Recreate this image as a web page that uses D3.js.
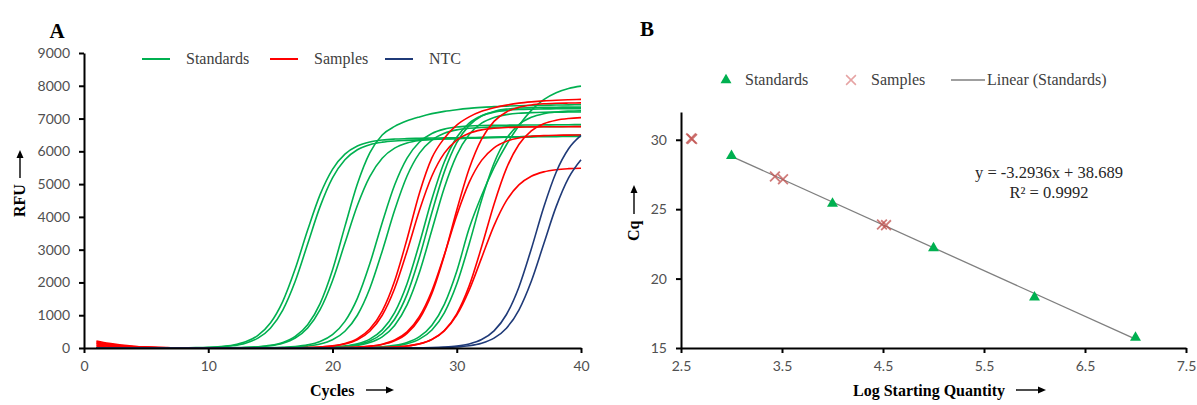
<!DOCTYPE html>
<html>
<head>
<meta charset="utf-8">
<script src="https://cdn.jsdelivr.net/npm/d3@7"></script>
<style>
  body { margin: 0; background: #fff; }
  svg { display: block; }
  .tick text { font-family: Lato, "Open Sans", sans-serif; font-size: 14px; fill: #505050; }
  .serif { font-family: "Liberation Serif", "Times New Roman", serif; }
</style>
</head>
<body>
<script>
// ---- panel A : amplification curves (RFU per cycle) ----
const cycles = [1,2,3,4,5,6,7,8,9,10,11,12,13,14,15,16,17,18,19,20,21,22,23,24,25,26,27,28,29,30,31,32,33,34,35,36,37,38,39,40];

const standardsRfu = [
  [0,0,0,0,0,0,2,5,10,20,43,90,188,385,763,1425,2416,3598,4679,5452,5914,6161,6285,6345,6374,6388,6398,6405,6410,6415,6420,6425,6430,6434,6438,6442,6446,6450,6453,6456],
  [0,0,0,0,0,0,0,3,7,16,33,70,146,301,605,1158,2037,3175,4313,5192,5745,6049,6204,6280,6317,6334,6350,6362,6374,6386,6398,6410,6421,6432,6443,6454,6465,6476,6487,6498],
  [0,0,0,0,0,0,0,0,0,0,4,9,18,39,82,171,352,708,1354,2380,3710,5000,5950,6500,6760,6930,7050,7150,7220,7270,7310,7340,7365,7380,7392,7400,7407,7413,7418,7422],
  [0,0,0,0,0,0,0,0,0,0,4,7,16,33,70,147,304,610,1168,2053,3200,4347,5232,5790,6096,6253,6330,6366,6384,6395,6405,6415,6425,6435,6445,6455,6463,6470,6477,6484],
  [0,0,0,0,0,0,0,0,0,0,0,0,2,5,10,22,45,96,199,409,811,1514,2567,3823,4971,5793,6284,6546,6678,6742,6772,6787,6794,6798,6800,6803,6806,6809,6812,6815],
  [0,0,0,0,0,0,0,0,0,0,0,0,0,3,6,13,27,58,121,252,512,999,1815,2955,4202,5247,5945,6345,6552,6655,6705,6729,6740,6745,6748,6750,6752,6754,6756,6758],
  [0,0,0,0,0,0,0,0,0,0,0,0,0,0,0,0,3,7,14,30,63,131,272,554,1081,1963,3196,4544,5674,6430,6861,7086,7197,7251,7277,7289,7295,7298,7300,7302],
  [0,0,0,0,0,0,0,0,0,0,0,0,0,0,0,0,2,5,11,23,49,103,215,442,876,1637,2775,4132,5373,6262,6792,7076,7218,7287,7320,7336,7343,7347,7349,7350],
  [0,0,0,0,0,0,0,0,0,0,0,0,0,0,0,0,0,4,8,18,38,79,165,341,687,1313,2310,3600,4890,5887,6513,6859,7035,7121,7162,7182,7192,7196,7198,7200],
  [0,0,0,0,0,0,0,0,0,0,0,0,0,0,0,0,0,0,0,0,4,9,18,38,80,168,346,696,1332,2342,3650,4650,5500,6200,6780,7250,7580,7790,7920,7990],
  [0,0,0,0,0,0,0,0,0,0,0,0,0,0,0,0,0,0,0,0,3,7,14,30,62,130,271,550,1073,1950,3174,4513,5635,6386,6814,7037,7148,7202,7227,7239]
];

const samplesRfu = [
  [215,140,90,55,32,17,8,3,0,0,0,0,0,0,0,3,7,15,31,65,137,284,577,1125,2044,3327,4731,5800,6400,6800,7050,7220,7330,7410,7470,7510,7540,7560,7575,7585],
  [185,120,76,46,27,14,7,2,0,0,0,0,0,0,0,3,6,13,27,58,121,252,512,999,1815,2955,4202,5247,5945,6345,6552,6655,6705,6729,6740,6745,6748,6750,6752,6754],
  [150,98,62,38,22,12,5,2,0,0,0,0,0,0,0,0,0,0,3,6,13,26,56,117,243,493,962,1748,2846,4046,5052,5725,6109,6309,6409,6456,6479,6490,6495,6498],
  [120,78,50,30,17,9,4,1,0,0,0,0,0,0,0,0,0,0,3,5,11,24,50,105,219,449,892,1666,2824,4205,5468,6373,6913,7201,7345,7416,7450,7466,7473,7477],
  [85,55,35,21,12,6,3,1,0,0,0,0,0,0,0,0,0,0,0,0,0,3,6,14,29,60,127,263,535,1044,1896,3087,4388,5480,6210,6626,6843,6951,7003,7028],
  [50,32,20,12,7,4,2,0,0,0,0,0,0,0,0,0,0,0,0,0,0,3,6,14,29,60,126,261,524,1003,1765,2750,3735,4497,4976,5239,5374,5440,5471,5486]
];

const ntcRfu = [
  [0,0,0,0,0,0,0,0,0,0,0,0,0,0,0,0,0,0,0,0,0,0,0,0,0,3,6,13,28,59,124,258,523,1022,1856,3021,4295,5363,6078,6485],
  [0,0,0,0,0,0,0,0,0,0,0,0,0,0,0,0,0,0,0,0,0,0,0,0,0,0,3,7,16,33,70,146,301,605,1158,2037,3175,4313,5192,5745]
];

const cycleTicks = [0, 10, 20, 30, 40];
const rfuTicks = [0, 1000, 2000, 3000, 4000, 5000, 6000, 7000, 8000, 9000];

// ---- panel B : standard curve ----
const logQtyStandards = [3, 4, 5, 6, 7];
const cqStandards = [28.85, 25.4, 22.2, 18.65, 15.75];
const logQtySamples = [2.6, 2.61, 3.43, 3.51, 4.49, 4.53];
const cqSamples = [30.1, 30.05, 27.35, 27.15, 23.9, 23.85];
const fitSlope = -3.2936;
const fitIntercept = 38.689;
const fitR2 = 0.9992;
const fitRange = [3, 7];
const logTicks = [2.5, 3.5, 4.5, 5.5, 6.5, 7.5];
const cqTicks = [15, 20, 25, 30];

const colors = {std: "#00b050", smp: "#ff0000", ntc: "#1f3a78", cross: "#c0504d", trend: "#7f7f7f"};

const svg = d3.select("body").append("svg")
    .attr("width", 1197)
    .attr("height", 405);
svg.append("rect").attr("width", 1197).attr("height", 405).attr("fill", "#fff");

// small long arrow (the "-->" next to axis titles)
const arrow = (x1, y1, x2, y2) => {
    const ang = Math.atan2(y2 - y1, x2 - x1);
    const g = svg.append("g");
    g.append("line")
        .attr("x1", x1).attr("y1", y1)
        .attr("x2", x2 - 5 * Math.cos(ang)).attr("y2", y2 - 5 * Math.sin(ang))
        .attr("stroke", "#000").attr("stroke-width", 1.4);
    g.append("path")
        .attr("d", "M0,0L-8,-3.5L-8,3.5Z")
        .attr("transform", `translate(${x2},${y2}) rotate(${ang * 180 / Math.PI})`)
        .attr("fill", "#000");
};

// ================= Panel A =================
const xA = d3.scaleLinear().domain([0, 40]).range([84, 581]);
const yA = d3.scaleLinear().domain([0, 9000]).range([348, 53]);

const lineA = d3.line()
    .x((d, i) => xA(cycles[i]))
    .y(d => yA(d))
    .curve(d3.curveMonotoneX);

const curvesA = svg.append("g").attr("fill", "none").attr("stroke-width", 1.6);
curvesA.selectAll("path.std")
    .data(standardsRfu)
    .enter().append("path")
    .attr("class", "std")
    .attr("stroke", colors.std)
    .attr("d", lineA);
curvesA.selectAll("path.smp")
    .data(samplesRfu)
    .enter().append("path")
    .attr("class", "smp")
    .attr("stroke", colors.smp)
    .attr("d", lineA);
curvesA.selectAll("path.ntc")
    .data(ntcRfu)
    .enter().append("path")
    .attr("class", "ntc")
    .attr("stroke", colors.ntc)
    .attr("d", lineA);

const axA_x = svg.append("g")
    .attr("transform", `translate(0,${yA(0)})`)
    .call(d3.axisBottom(xA).tickValues(cycleTicks).tickFormat(d3.format("d")).tickSize(5).tickSizeOuter(0).tickPadding(8));
const axA_y = svg.append("g")
    .attr("transform", `translate(${xA(0)},0)`)
    .call(d3.axisLeft(yA).tickValues(rfuTicks).tickFormat(d3.format("d")).tickSize(5).tickSizeOuter(0).tickPadding(9));
[axA_x, axA_y].forEach(a => {
    a.select(".domain").attr("stroke", "#000").attr("stroke-width", 2);
    a.selectAll(".tick line").attr("stroke", "#000").attr("stroke-width", 2);
});

svg.append("text").attr("class", "serif")
    .attr("x", 57).attr("y", 38)
    .attr("text-anchor", "middle")
    .attr("font-size", 21).attr("font-weight", "bold")
    .text("A");

svg.append("text").attr("class", "serif")
    .attr("x", 310).attr("y", 396)
    .attr("font-size", 16).attr("font-weight", "bold")
    .text("Cycles");
arrow(366, 390, 394, 390);

svg.append("text").attr("class", "serif")
    .attr("transform", "translate(25,217) rotate(-90)")
    .attr("font-size", 16).attr("font-weight", "bold")
    .text("RFU");
arrow(20, 178, 20, 150);

// legend A
const legA = [
    {label: "Standards", color: colors.std, x: 142},
    {label: "Samples", color: colors.smp, x: 270},
    {label: "NTC", color: colors.ntc, x: 385}
];
const legAG = svg.append("g").selectAll("g").data(legA).enter().append("g")
    .attr("transform", d => `translate(${d.x},59)`);
legAG.append("line")
    .attr("x1", 0).attr("x2", 28)
    .attr("stroke", d => d.color).attr("stroke-width", 2);
legAG.append("text").attr("class", "serif")
    .attr("x", 44).attr("y", 5)
    .attr("font-size", 16).attr("fill", "#404040")
    .text(d => d.label);

// ================= Panel B =================
const xB = d3.scaleLinear().domain([2.5, 7.5]).range([681, 1186]);
const yB = d3.scaleLinear().domain([15, 32]).range([348, 112]);

const axB_x = svg.append("g")
    .attr("transform", `translate(0,${yB(15)})`)
    .call(d3.axisBottom(xB).tickValues(logTicks).tickFormat(d3.format(".1f")).tickSize(5).tickSizeOuter(0).tickPadding(8));
const axB_y = svg.append("g")
    .attr("transform", `translate(${xB(2.5)},0)`)
    .call(d3.axisLeft(yB).tickValues(cqTicks).tickFormat(d3.format("d")).tickSize(5).tickSizeOuter(0).tickPadding(9));
[axB_x, axB_y].forEach(a => {
    a.select(".domain").attr("stroke", "#000").attr("stroke-width", 2);
    a.selectAll(".tick line").attr("stroke", "#000").attr("stroke-width", 2);
});

// trendline over the standards
svg.append("line")
    .attr("x1", xB(fitRange[0])).attr("y1", yB(fitSlope * fitRange[0] + fitIntercept))
    .attr("x2", xB(fitRange[1])).attr("y2", yB(fitSlope * fitRange[1] + fitIntercept))
    .attr("stroke", colors.trend).attr("stroke-width", 1.3);

const tri = d3.symbol().type(d3.symbolTriangle).size(52);
const cross = d3.symbol().type(d3.symbolTimes).size(64);

svg.append("g").selectAll("path")
    .data(logQtyStandards)
    .enter().append("path")
    .attr("d", tri)
    .attr("transform", (d, i) => `translate(${xB(d)},${yB(cqStandards[i])})`)
    .attr("fill", colors.std);

svg.append("g").selectAll("path")
    .data(logQtySamples)
    .enter().append("path")
    .attr("d", cross)
    .attr("transform", (d, i) => `translate(${xB(d)},${yB(cqSamples[i])})`)
    .attr("fill", "none")
    .attr("stroke", colors.cross)
    .attr("stroke-width", 1.8)
    .attr("stroke-opacity", 0.75);

svg.append("text").attr("class", "serif")
    .attr("x", 647).attr("y", 36)
    .attr("text-anchor", "middle")
    .attr("font-size", 21).attr("font-weight", "bold")
    .text("B");

svg.append("text").attr("class", "serif")
    .attr("x", 853).attr("y", 396)
    .attr("font-size", 16).attr("font-weight", "bold")
    .text("Log Starting Quantity");
arrow(1016, 390, 1046, 390);

svg.append("text").attr("class", "serif")
    .attr("transform", "translate(639,241) rotate(-90)")
    .attr("font-size", 16).attr("font-weight", "bold")
    .text("Cq");
arrow(634, 214, 634, 185);

// equation
const eq = svg.append("g").attr("class", "serif").attr("font-size", 16.5).attr("fill", "#262626")
    .attr("text-anchor", "middle");
eq.append("text").attr("x", 1049).attr("y", 178)
    .text(`y = ${fitSlope}x + ${fitIntercept}`);
eq.append("text").attr("x", 1049).attr("y", 198)
    .text(`R² = ${fitR2}`);

// legend B
const legB = svg.append("g").attr("class", "serif").attr("font-size", 16).attr("fill", "#404040");
legB.append("path").attr("d", tri).attr("transform", "translate(726,80)").attr("fill", colors.std);
legB.append("text").attr("x", 745).attr("y", 85).text("Standards");
legB.append("path").attr("d", cross).attr("transform", "translate(851,80)")
    .attr("fill", "none").attr("stroke", "#e6a3a3").attr("stroke-width", 1.5);
legB.append("text").attr("x", 871).attr("y", 85).text("Samples");
legB.append("line").attr("x1", 951).attr("x2", 985).attr("y1", 80).attr("y2", 80)
    .attr("stroke", colors.trend).attr("stroke-width", 1.5);
legB.append("text").attr("x", 987).attr("y", 85).text("Linear (Standards)");
</script>
</body>
</html>
